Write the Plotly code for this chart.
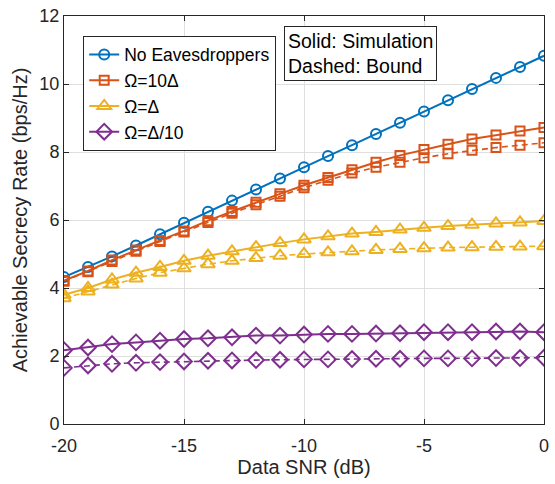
import plotly.graph_objects as go

snr = list(range(-20, 1))

no_eve = [4.32, 4.62, 4.93, 5.25, 5.58, 5.92, 6.24, 6.57, 6.90, 7.22, 7.55,
          7.88, 8.20, 8.53, 8.86, 9.19, 9.52, 9.85, 10.18, 10.50, 10.83]
om10_sim = [4.22, 4.50, 4.82, 5.12, 5.40, 5.68, 5.98, 6.25, 6.52, 6.77, 7.02,
            7.25, 7.48, 7.70, 7.90, 8.07, 8.23, 8.38, 8.50, 8.62, 8.72]
om10_bnd = [4.20, 4.48, 4.78, 5.08, 5.37, 5.65, 5.93, 6.20, 6.45, 6.70, 6.95,
            7.17, 7.38, 7.55, 7.70, 7.83, 7.95, 8.05, 8.13, 8.20, 8.27]
om1_sim = [3.80, 4.00, 4.25, 4.45, 4.62, 4.80, 4.95, 5.08, 5.20, 5.32, 5.43,
           5.52, 5.60, 5.65, 5.72, 5.77, 5.82, 5.86, 5.90, 5.93, 5.97]
om1_bnd = [3.70, 3.90, 4.10, 4.28, 4.45, 4.58, 4.70, 4.80, 4.88, 4.95, 5.00,
           5.05, 5.08, 5.12, 5.15, 5.17, 5.19, 5.20, 5.21, 5.22, 5.23]
om01_sim = [2.17, 2.25, 2.35, 2.40, 2.45, 2.50, 2.52, 2.55, 2.60, 2.60, 2.63,
            2.65, 2.65, 2.66, 2.67, 2.70, 2.70, 2.70, 2.72, 2.72, 2.70]
om01_bnd = [1.65, 1.72, 1.77, 1.80, 1.82, 1.84, 1.86, 1.87, 1.88, 1.89, 1.90,
            1.90, 1.91, 1.92, 1.92, 1.93, 1.93, 1.93, 1.94, 1.94, 1.95]

x_ticks = [-20, -15, -10, -5, 0]
x_ticktext = ["-20", "-15", "-10", "-5", "0"]
y_ticks = [0, 2, 4, 6, 8, 10, 12]

names = ["No Eavesdroppers", "Ω=10Δ", "Ω=Δ", "Ω=Δ/10"]
colors = ["#0072BD", "#D95319", "#EDB120", "#7E2F8E"]
symbols = ["circle-open", "square-open", "triangle-up-open", "diamond-open"]
msizes = [10, 9, 12, 12]

fig = go.Figure()

sims = [no_eve, om10_sim, om1_sim, om01_sim]
bnds = [None, om10_bnd, om1_bnd, om01_bnd]

for i in range(4):
    if bnds[i] is not None:
        fig.add_trace(go.Scatter(
            x=snr, y=bnds[i], mode="lines+markers", showlegend=False,
            line=dict(color=colors[i], width=1.6, dash="6px,4px"),
            marker=dict(symbol=symbols[i], size=msizes[i], color=colors[i],
                        line=dict(width=2, color=colors[i]))))
for i in range(4):
    fig.add_trace(go.Scatter(
        x=snr, y=sims[i], mode="lines+markers", name=names[i],
        line=dict(color=colors[i], width=2),
        marker=dict(symbol=symbols[i], size=msizes[i], color=colors[i],
                    line=dict(width=2, color=colors[i]))))

font_family = "Liberation Sans, Arial, sans-serif"

fig.update_layout(
    width=555, height=484,
    margin=dict(l=64, r=6, t=14, b=60),
    paper_bgcolor="white", plot_bgcolor="white",
    font=dict(family=font_family, size=17, color="#262626"),
    showlegend=True,
    legend=dict(
        x=0.04, y=0.952, xanchor="left", yanchor="top",
        bgcolor="white", bordercolor="#262626", borderwidth=1,
        font=dict(size=17.5, color="black"),
        tracegroupgap=0, itemwidth=30,
    ),
    xaxis=dict(
        range=[-20, 0], tickvals=x_ticks, ticktext=x_ticktext,
        showgrid=True, gridcolor="#DFDFDF", gridwidth=1,
        showline=True, linecolor="#262626", linewidth=1, mirror="ticks",
        ticks="inside", ticklen=5, tickcolor="#262626",
        ticklabelstandoff=5, ticklabeloverflow="allow",
        zeroline=False, tickfont=dict(size=18),
        title=dict(text="Data SNR (dB)", font=dict(size=20), standoff=4),
    ),
    yaxis=dict(
        range=[0, 12], tickvals=y_ticks,
        showgrid=True, gridcolor="#DFDFDF", gridwidth=1,
        showline=True, linecolor="#262626", linewidth=1, mirror="ticks",
        ticks="inside", ticklen=5, tickcolor="#262626",
        zeroline=False, tickfont=dict(size=18),
        title=dict(text="Achievable Secrecy Rate (bps/Hz)", font=dict(size=20), standoff=6),
    ),
)

fig.add_annotation(
    xref="paper", yref="paper", x=0.458, y=0.975, xanchor="left", yanchor="top",
    text="Solid: Simulation<br>Dashed: Bound", showarrow=False, align="left",
    font=dict(size=19.5, color="black"),
    bgcolor="white", bordercolor="#262626", borderwidth=1, borderpad=3,
)

fig.write_html("out.html")
